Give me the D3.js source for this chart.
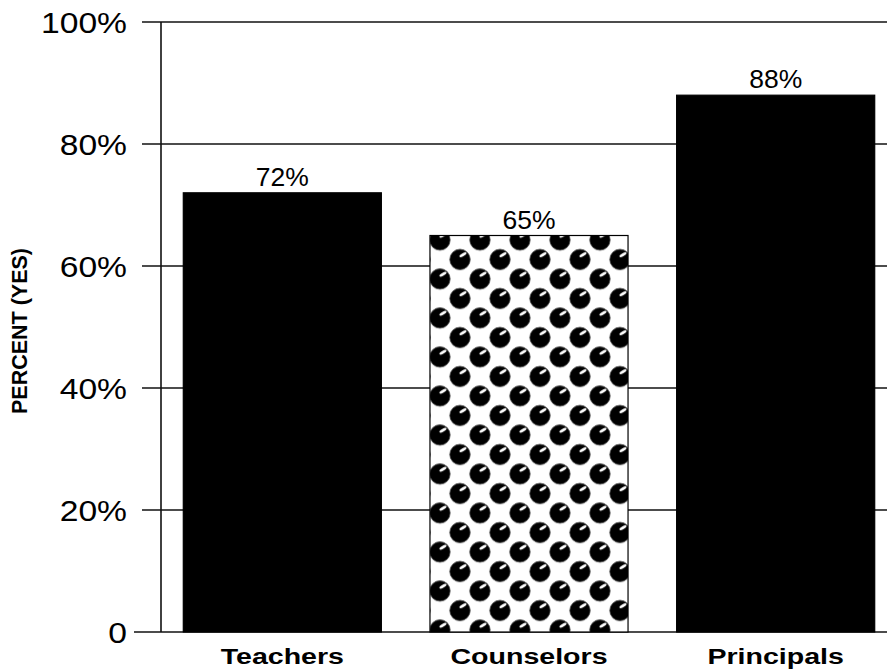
<!DOCTYPE html>
<html>
<head>
<meta charset="utf-8">
<script src="https://cdn.jsdelivr.net/npm/d3@7/dist/d3.min.js"></script>
<style>
  html, body { margin: 0; padding: 0; background: #fff; }
  svg { display: block; }
  text { font-family: "Liberation Sans", Arial, sans-serif; fill: #000; }
</style>
</head>
<body>
<svg id="chart" width="887" height="670"></svg>
<script>
const categories = ["Teachers", "Counselors", "Principals"];
const values = [72, 65, 88];
const fills = ["solid", "dots", "solid"];
const tickValues = [0, 20, 40, 60, 80, 100];
const tickLabels = ["0", "20%", "40%", "60%", "80%", "100%"];
const yTitle = "PERCENT (YES)";

const svg = d3.select("#chart");
const W = 887, H = 670;

const y = d3.scaleLinear().domain([0, 100]).range([632, 22]);
const x = d3.scaleBand().domain(categories).range([159, 899]).paddingInner(0.197).paddingOuter(0.0985);

// dot pattern
const defs = svg.append("defs");
const pat = defs.append("pattern")
  .attr("id", "dots")
  .attr("patternUnits", "userSpaceOnUse")
  .attr("width", 40).attr("height", 39)
  .attr("x", x("Counselors")).attr("y", y(65) - 5.25);
pat.append("rect").attr("width", 40).attr("height", 39).attr("fill", "#fff");
[[10, 9.75], [30, 29.25], [-10, 29.25], [50, 9.75], [10, 48.75], [30, -9.75]].forEach(([cx, cy]) => {
  const g = pat.append("g").attr("transform", `translate(${cx},${cy})`);
  g.append("circle").attr("r", 10.2).attr("fill", "#000").attr("stroke", "#444").attr("stroke-width", 0.8);
  g.append("ellipse").attr("cx", 3).attr("cy", -4.8).attr("rx", 4).attr("ry", 1.4)
    .attr("transform", "rotate(-30 3 -4.8)").attr("fill", "#fff");
});

// gridlines
const grid = svg.append("g");
grid.selectAll("line").data(tickValues).join("line")
  .attr("x1", d => d === 0 ? 134 : 142).attr("x2", W)
  .attr("y1", d => y(d)).attr("y2", d => y(d))
  .attr("stroke", "#111").attr("stroke-width", 1.6);

// y axis line
svg.append("line").attr("x1", 161).attr("x2", 161).attr("y1", y(100)).attr("y2", y(0))
  .attr("stroke", "#111").attr("stroke-width", 1.6);

// tick labels
svg.append("g").selectAll("text").data(tickValues).join("text")
  .attr("transform", d => `translate(127,${y(d)}) scale(1.14,1)`)
  .attr("text-anchor", "end").attr("dy", "0.36em")
  .style("font-size", "29.5px")
  .text((d, i) => tickLabels[i]);

// bars
svg.append("g").selectAll("rect").data(categories).join("rect")
  .attr("x", d => x(d)).attr("width", x.bandwidth())
  .attr("y", (d, i) => y(values[i])).attr("height", (d, i) => y(0) - y(values[i]))
  .attr("fill", (d, i) => fills[i] === "dots" ? "url(#dots)" : "#000")
  .attr("stroke", "#000").attr("stroke-width", 1.2);

// value labels
svg.append("g").selectAll("text").data(categories).join("text")
  .attr("transform", (d, i) => `translate(${x(d) + x.bandwidth() / 2},${y(values[i]) - 7}) scale(1.06,1)`)
  .attr("text-anchor", "middle")
  .style("font-size", "25px")
  .text((d, i) => values[i] + "%");

// category labels
svg.append("g").selectAll("text").data(categories).join("text")
  .attr("transform", d => `translate(${x(d) + x.bandwidth() / 2},664) scale(1.27,1)`)
  .attr("text-anchor", "middle")
  .style("font-size", "22.5px").style("font-weight", "bold")
  .text(d => d);

// y title
svg.append("text")
  .attr("transform", "translate(27,331) rotate(-90)")
  .attr("text-anchor", "middle")
  .style("font-size", "21.5px").style("font-weight", "bold")
  .text(yTitle);
</script>
</body>
</html>
